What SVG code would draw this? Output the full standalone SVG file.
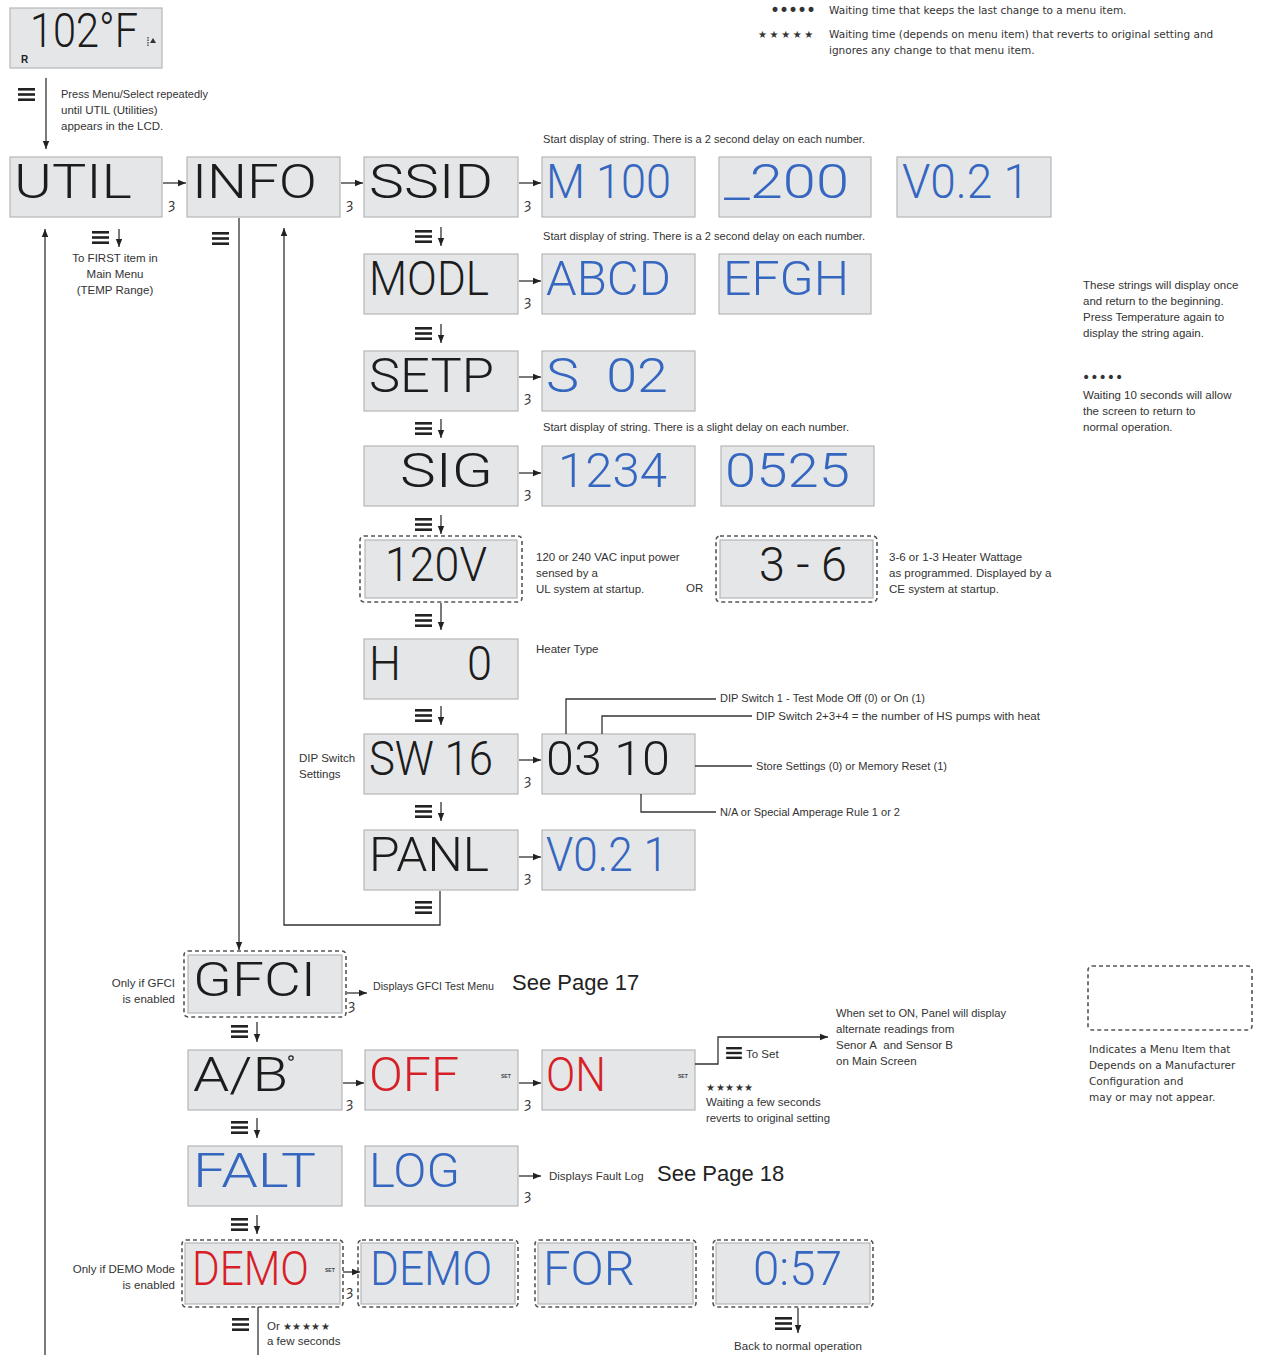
<svg xmlns="http://www.w3.org/2000/svg" xmlns:xlink="http://www.w3.org/1999/xlink" width="1261" height="1355" viewBox="0 0 1261 1355">
<style>
.lcd{fill:#e5e6e8;stroke:#b5b6b8;stroke-width:1.2}
.dash{fill:none;stroke:#555;stroke-width:1.6;stroke-dasharray:4 3}
.seg{font-family:"Roboto","DejaVu Sans Mono",monospace;font-weight:300;font-size:49px;fill:#1c1c1c}
.blue{fill:#3566c0}
.red{fill:#d71f27}
.ann{font-family:"Liberation Sans Narrow","Liberation Sans",Arial,sans-serif;font-size:11.5px;fill:#333}
.leg{font-family:"DejaVu Sans",Verdana,sans-serif;font-size:10.5px;fill:#333}
.big{font-family:"Liberation Sans",Arial,sans-serif;font-size:22px;fill:#222}
.hand{font-family:"DejaVu Sans",sans-serif;font-size:14px;fill:#333}
.set{font-family:"Liberation Sans",Arial,sans-serif;font-size:5px;font-weight:bold;fill:#444}
.ln{fill:none;stroke:#333;stroke-width:1.3}
.arr{fill:none;stroke:#333;stroke-width:1.3;marker-end:url(#ah)}
</style>
<defs>
<marker id="ah" viewBox="0 0 10 10" refX="10" refY="5" markerWidth="9" markerHeight="8" markerUnits="userSpaceOnUse" orient="auto">
<path d="M0,1 L10,5 L0,9 z" fill="#222"/>
</marker>
<symbol id="menu" viewBox="0 0 17 13" overflow="visible">
<rect x="0" y="0" width="17" height="2.6" fill="#222"/>
<rect x="0" y="5.2" width="17" height="2.6" fill="#222"/>
<rect x="0" y="10.4" width="17" height="2.6" fill="#222"/>
</symbol>
</defs>

<!-- legend top -->
<g id="legend-top">
<text class="leg" x="770" y="16" style="font-size:17px;letter-spacing:-1px">•••••</text>
<text class="leg" x="829" y="14">Waiting time that keeps the last change to a menu item.</text>
<text class="leg" x="758" y="38" style="font-size:10px;letter-spacing:2.6px">★★★★★</text>
<text class="leg" x="829" y="38">Waiting time (depends on menu item) that reverts to original setting and</text>
<text class="leg" x="829" y="54">ignores any change to that menu item.</text>
</g>

<!-- start display -->
<g id="n-102f">
<rect class="lcd" x="10" y="8" width="152" height="60"/>
<text class="seg" x="30" y="47" textLength="108" lengthAdjust="spacingAndGlyphs">102°F</text>
<text x="21" y="63" style="font-family:'Liberation Sans',Arial,sans-serif;font-size:10px;font-weight:bold;fill:#222">R</text>
<line x1="148" y1="37" x2="148" y2="47" stroke="#333" stroke-width="1.2" stroke-dasharray="1.5 1"/>
<path d="M150,43 L153,38 L156,43 z" fill="#333"/>
</g>
<g id="t-press">
<use href="#menu" x="18" y="88" width="17" height="13"/>
<text class="ann" x="61" y="98" textLength="147" lengthAdjust="spacingAndGlyphs">Press Menu/Select repeatedly</text>
<text class="ann" x="61" y="114">until UTIL (Utilities)</text>
<text class="ann" x="61" y="130">appears in the LCD.</text>
</g>

<!-- Row 1 -->
<g id="n-util"><rect class="lcd" x="10" y="157" width="152" height="60"/><text class="seg" x="14" y="198" textLength="118" lengthAdjust="spacingAndGlyphs">UTIL</text></g>
<g id="n-info"><rect class="lcd" x="187" y="157" width="153" height="60"/><text class="seg" x="192" y="198" textLength="125" lengthAdjust="spacingAndGlyphs">INFO</text></g>
<g id="n-ssid"><rect class="lcd" x="364" y="157" width="154" height="60"/><text class="seg" x="369" y="198" textLength="124" lengthAdjust="spacingAndGlyphs">SSID</text></g>
<g id="n-m100"><rect class="lcd" x="542" y="157" width="153" height="60"/><text class="seg blue" x="546" y="198" textLength="125" lengthAdjust="spacingAndGlyphs">M 100</text></g>
<g id="n-200"><rect class="lcd" x="719" y="157" width="152" height="60"/><text class="seg blue" x="724" y="198" textLength="125" lengthAdjust="spacingAndGlyphs">_200</text></g>
<g id="n-v021a"><rect class="lcd" x="897" y="157" width="154" height="60"/><text class="seg blue" x="902" y="198" textLength="127" lengthAdjust="spacingAndGlyphs">V0.2 1</text></g>
<text class="ann" x="543" y="143" textLength="322" lengthAdjust="spacingAndGlyphs">Start display of string. There is a 2 second delay on each number.</text>

<g id="t-first">
<text class="ann" x="115" y="262" text-anchor="middle">To FIRST item in</text>
<text class="ann" x="115" y="278" text-anchor="middle">Main Menu</text>
<text class="ann" x="115" y="294" text-anchor="middle">(TEMP Range)</text>
</g>

<!-- MODL row -->
<g id="n-modl"><rect class="lcd" x="364" y="254" width="154" height="60"/><text class="seg" x="369" y="295" textLength="120" lengthAdjust="spacingAndGlyphs">MODL</text></g>
<g id="n-abcd"><rect class="lcd" x="542" y="254" width="153" height="60"/><text class="seg blue" x="546" y="295" textLength="125" lengthAdjust="spacingAndGlyphs">ABCD</text></g>
<g id="n-efgh"><rect class="lcd" x="719" y="254" width="152" height="60"/><text class="seg blue" x="723" y="295" textLength="126" lengthAdjust="spacingAndGlyphs">EFGH</text></g>
<text class="ann" x="543" y="240" textLength="322" lengthAdjust="spacingAndGlyphs">Start display of string. There is a 2 second delay on each number.</text>

<!-- SETP row -->
<g id="n-setp"><rect class="lcd" x="364" y="351" width="154" height="60"/><text class="seg" x="369" y="392" textLength="125" lengthAdjust="spacingAndGlyphs">SETP</text></g>
<g id="n-s02"><rect class="lcd" x="542" y="351" width="153" height="60"/><text class="seg blue" x="546" y="392" textLength="122" lengthAdjust="spacingAndGlyphs">S&#160;&#160;02</text></g>

<!-- SIG row -->
<text class="ann" x="543" y="431" textLength="306" lengthAdjust="spacingAndGlyphs">Start display of string. There is a slight delay on each number.</text>
<g id="n-sig"><rect class="lcd" x="364" y="446" width="154" height="60"/><text class="seg" x="400" y="487" textLength="93" lengthAdjust="spacingAndGlyphs">SIG</text></g>
<g id="n-1234"><rect class="lcd" x="542" y="446" width="153" height="60"/><text class="seg blue" x="558" y="487" textLength="109" lengthAdjust="spacingAndGlyphs">1234</text></g>
<g id="n-0525"><rect class="lcd" x="721" y="446" width="153" height="60"/><text class="seg blue" x="725" y="487" textLength="125" lengthAdjust="spacingAndGlyphs">0525</text></g>

<!-- 120V row -->
<g id="n-120v"><rect class="dash" x="360" y="536" width="162" height="66" rx="4"/><rect class="lcd" x="365" y="540" width="152" height="58"/><text class="seg" x="385" y="581" textLength="102" lengthAdjust="spacingAndGlyphs">120V</text></g>
<g id="t-120v">
<text class="ann" x="536" y="561">120 or 240 VAC input power</text>
<text class="ann" x="536" y="577">sensed by a</text>
<text class="ann" x="536" y="593">UL system at startup.</text>
<text class="ann" x="686" y="592">OR</text>
</g>
<g id="n-36"><rect class="dash" x="716" y="536" width="161" height="66" rx="4"/><rect class="lcd" x="720" y="540" width="153" height="58"/><text class="seg" x="759" y="581" textLength="88" lengthAdjust="spacingAndGlyphs">3 - 6</text></g>
<g id="t-36">
<text class="ann" x="889" y="561">3-6 or 1-3 Heater Wattage</text>
<text class="ann" x="889" y="577">as programmed. Displayed by a</text>
<text class="ann" x="889" y="593">CE system at startup.</text>
</g>

<!-- H 0 -->
<g id="n-h0"><rect class="lcd" x="364" y="639" width="154" height="60"/><text class="seg" x="369" y="680" textLength="123" lengthAdjust="spacingAndGlyphs">H&#160;&#160;&#160;&#160;&#160;&#160;0</text></g>
<text class="ann" x="536" y="653">Heater Type</text>

<!-- SW16 -->
<g id="n-sw16"><rect class="lcd" x="364" y="734" width="154" height="60"/><text class="seg" x="369" y="775" textLength="124" lengthAdjust="spacingAndGlyphs">SW 16</text></g>
<g id="n-0310"><rect class="lcd" x="542" y="734" width="153" height="60"/><text class="seg" x="546" y="775" textLength="124" lengthAdjust="spacingAndGlyphs">03 10</text></g>
<g id="t-dip">
<text class="ann" x="299" y="762">DIP Switch</text>
<text class="ann" x="299" y="778">Settings</text>
<text class="ann" x="720" y="702" textLength="205" lengthAdjust="spacingAndGlyphs">DIP Switch 1 - Test Mode Off (0) or On (1)</text>
<text class="ann" x="756" y="720" textLength="284" lengthAdjust="spacingAndGlyphs">DIP Switch 2+3+4 = the number of HS pumps with heat</text>
<text class="ann" x="756" y="770" textLength="191" lengthAdjust="spacingAndGlyphs">Store Settings (0) or Memory Reset (1)</text>
<text class="ann" x="720" y="816" textLength="180" lengthAdjust="spacingAndGlyphs">N/A or Special Amperage Rule 1 or 2</text>
</g>

<!-- PANL -->
<g id="n-panl"><rect class="lcd" x="364" y="830" width="154" height="60"/><text class="seg" x="369" y="871" textLength="120" lengthAdjust="spacingAndGlyphs">PANL</text></g>
<g id="n-v021b"><rect class="lcd" x="542" y="830" width="153" height="60"/><text class="seg blue" x="546" y="871" textLength="122" lengthAdjust="spacingAndGlyphs">V0.2 1</text></g>

<!-- right notes -->
<g id="t-right">
<text class="ann" x="1083" y="289">These strings will display once</text>
<text class="ann" x="1083" y="305">and return to the beginning.</text>
<text class="ann" x="1083" y="321">Press Temperature again to</text>
<text class="ann" x="1083" y="337">display the string again.</text>
<text class="leg" x="1082" y="382" style="font-size:14px;letter-spacing:0px">•••••</text>
<text class="ann" x="1083" y="399">Waiting 10 seconds will allow</text>
<text class="ann" x="1083" y="415">the screen to return to</text>
<text class="ann" x="1083" y="431">normal operation.</text>
</g>

<!-- GFCI -->
<g id="n-gfci"><rect class="dash" x="184" y="951" width="162" height="66" rx="4"/><rect class="lcd" x="188" y="955" width="154" height="58"/><text class="seg" x="193" y="996" textLength="123" lengthAdjust="spacingAndGlyphs">GFCI</text></g>
<g id="t-gfci">
<text class="ann" x="175" y="987" text-anchor="end">Only if GFCI</text>
<text class="ann" x="175" y="1003" text-anchor="end">is enabled</text>
<text class="ann" x="373" y="990" textLength="121" lengthAdjust="spacingAndGlyphs">Displays GFCI Test Menu</text>
<text class="big" x="512" y="990">See Page 17</text>
</g>

<!-- A/B row -->
<g id="n-ab"><rect class="lcd" x="188" y="1050" width="154" height="60"/><text class="seg" x="193" y="1091" textLength="95" lengthAdjust="spacingAndGlyphs">A/B</text><circle cx="291" cy="1058" r="2.2" fill="none" stroke="#222" stroke-width="1.2"/></g>
<g id="n-off"><rect class="lcd" x="365" y="1050" width="153" height="60"/><text class="seg red" x="369" y="1091" textLength="90" lengthAdjust="spacingAndGlyphs">OFF</text><text class="set" x="501" y="1078">SET</text></g>
<g id="n-on"><rect class="lcd" x="542" y="1050" width="153" height="60"/><text class="seg red" x="546" y="1091" textLength="60" lengthAdjust="spacingAndGlyphs">ON</text><text class="set" x="678" y="1078">SET</text></g>
<g id="t-on">
<use href="#menu" x="726" y="1047" width="16" height="12"/>
<text class="ann" x="746" y="1058">To Set</text>
<text class="ann" x="706" y="1091" style="font-size:10px;letter-spacing:0.5px">★★★★★</text>
<text class="ann" x="706" y="1106">Waiting a few seconds</text>
<text class="ann" x="706" y="1122" textLength="124" lengthAdjust="spacingAndGlyphs">reverts to original setting</text>
<text class="ann" x="836" y="1017" textLength="170" lengthAdjust="spacingAndGlyphs">When set to ON, Panel will display</text>
<text class="ann" x="836" y="1033">alternate readings from</text>
<text class="ann" x="836" y="1049">Senor A&#160; and Sensor B</text>
<text class="ann" x="836" y="1065">on Main Screen</text>
</g>

<!-- FALT row -->
<g id="n-falt"><rect class="lcd" x="188" y="1146" width="154" height="60"/><text class="seg blue" x="193" y="1187" textLength="123" lengthAdjust="spacingAndGlyphs">FALT</text></g>
<g id="n-log"><rect class="lcd" x="365" y="1146" width="153" height="60"/><text class="seg blue" x="369" y="1187" textLength="91" lengthAdjust="spacingAndGlyphs">LOG</text></g>
<g id="t-log">
<text class="ann" x="549" y="1180">Displays Fault Log</text>
<text class="big" x="657" y="1181">See Page 18</text>
</g>

<!-- DEMO row -->
<g id="n-demo1"><rect class="dash" x="182" y="1240" width="161" height="67" rx="4"/><rect class="lcd" x="185" y="1243" width="155" height="61"/><text class="seg red" x="192" y="1285" textLength="117" lengthAdjust="spacingAndGlyphs">DEMO</text><text class="set" x="325" y="1272">SET</text></g>
<g id="t-demo">
<text class="ann" x="175" y="1273" text-anchor="end">Only if DEMO Mode</text>
<text class="ann" x="175" y="1289" text-anchor="end">is enabled</text>
<text class="ann" x="267" y="1330">Or <tspan style="font-size:10px;letter-spacing:0.5px">★★★★★</tspan></text>
<text class="ann" x="267" y="1345">a few seconds</text>
</g>
<g id="n-demo2"><rect class="dash" x="358" y="1240" width="160" height="67" rx="4"/><rect class="lcd" x="361" y="1243" width="154" height="61"/><text class="seg blue" x="370" y="1285" textLength="122" lengthAdjust="spacingAndGlyphs">DEMO</text></g>
<g id="n-for"><rect class="dash" x="535" y="1240" width="161" height="67" rx="4"/><rect class="lcd" x="538" y="1243" width="155" height="61"/><text class="seg blue" x="543" y="1285" textLength="92" lengthAdjust="spacingAndGlyphs">FOR</text></g>
<g id="n-057"><rect class="dash" x="713" y="1240" width="160" height="67" rx="4"/><rect class="lcd" x="716" y="1243" width="154" height="61"/><text class="seg blue" x="753" y="1285" textLength="89" lengthAdjust="spacingAndGlyphs">0:57</text></g>
<text class="ann" x="798" y="1350" text-anchor="middle">Back to normal operation</text>

<!-- legend bottom right -->
<g id="legend-dashed">
<rect class="dash" x="1088" y="966" width="164" height="64" rx="4"/>
<text class="leg" x="1089" y="1053">Indicates a Menu Item that</text>
<text class="leg" x="1089" y="1069">Depends on a Manufacturer</text>
<text class="leg" x="1089" y="1085">Configuration and</text>
<text class="leg" x="1089" y="1101">may or may not appear.</text>
</g>

<!-- connectors -->
<g id="connectors">
<line class="arr" x1="46" y1="78" x2="46" y2="149"/>
<line class="arr" x1="45" y1="1355" x2="45" y2="229"/>
<line class="arr" x1="239" y1="218" x2="239" y2="950"/>
<polyline class="arr" points="440,891 440,925 284,925 284,228"/>
<line class="ln" x1="258" y1="1307" x2="258" y2="1355"/>

<line class="arr" x1="163" y1="183" x2="186" y2="183"/>
<line class="arr" x1="341" y1="183" x2="363" y2="183"/>
<line class="arr" x1="519" y1="183" x2="541" y2="183"/>
<line class="arr" x1="519" y1="281" x2="541" y2="281"/>
<line class="arr" x1="519" y1="377" x2="541" y2="377"/>
<line class="arr" x1="519" y1="473" x2="541" y2="473"/>
<line class="arr" x1="519" y1="760" x2="541" y2="760"/>
<line class="arr" x1="519" y1="857" x2="541" y2="857"/>
<line class="arr" x1="347" y1="993" x2="367" y2="993"/>
<line class="arr" x1="343" y1="1083" x2="364" y2="1083"/>
<line class="arr" x1="519" y1="1083" x2="541" y2="1083"/>
<line class="arr" x1="519" y1="1176" x2="541" y2="1176"/>
<line class="arr" x1="343" y1="1272" x2="360" y2="1272"/>
<polyline class="arr" points="695,1064 718,1064 718,1037 828,1037"/>

<text class="hand" x="168" y="209">ȝ</text>
<text class="hand" x="346" y="209">ȝ</text>
<text class="hand" x="524" y="209">ȝ</text>
<text class="hand" x="524" y="306">ȝ</text>
<text class="hand" x="524" y="402">ȝ</text>
<text class="hand" x="524" y="498">ȝ</text>
<text class="hand" x="524" y="785">ȝ</text>
<text class="hand" x="524" y="882">ȝ</text>
<text class="hand" x="348" y="1010">ȝ</text>
<text class="hand" x="346" y="1108">ȝ</text>
<text class="hand" x="524" y="1108">ȝ</text>
<text class="hand" x="524" y="1200">ȝ</text>
<text class="hand" x="346" y="1296">ȝ</text>

<use href="#menu" x="92" y="231" width="17" height="13"/><line class="arr" x1="119" y1="229" x2="119" y2="247"/>
<use href="#menu" x="212" y="232" width="17" height="13"/>
<use href="#menu" x="415" y="230" width="17" height="13"/><line class="arr" x1="441" y1="227" x2="441" y2="246"/>
<use href="#menu" x="415" y="327" width="17" height="13"/><line class="arr" x1="441" y1="324" x2="441" y2="343"/>
<use href="#menu" x="415" y="422" width="17" height="13"/><line class="arr" x1="441" y1="419" x2="441" y2="438"/>
<use href="#menu" x="415" y="518" width="17" height="13"/><line class="arr" x1="441" y1="515" x2="441" y2="534"/>
<use href="#menu" x="415" y="614" width="17" height="13"/><line class="arr" x1="441" y1="603" x2="441" y2="630"/>
<use href="#menu" x="415" y="709" width="17" height="13"/><line class="arr" x1="441" y1="706" x2="441" y2="725"/>
<use href="#menu" x="415" y="805" width="17" height="13"/><line class="arr" x1="441" y1="802" x2="441" y2="821"/>
<use href="#menu" x="415" y="901" width="17" height="13"/>
<use href="#menu" x="231" y="1025" width="17" height="13"/><line class="arr" x1="257" y1="1022" x2="257" y2="1042"/>
<use href="#menu" x="231" y="1121" width="17" height="13"/><line class="arr" x1="257" y1="1118" x2="257" y2="1138"/>
<use href="#menu" x="231" y="1218" width="17" height="13"/><line class="arr" x1="257" y1="1215" x2="257" y2="1234"/>
<use href="#menu" x="232" y="1318" width="17" height="13"/>
<use href="#menu" x="775" y="1317" width="17" height="13"/><line class="arr" x1="798" y1="1308" x2="798" y2="1333"/>

<polyline class="ln" points="566,734 566,699 716,699"/>
<polyline class="ln" points="602,734 602,716 752,716"/>
<line class="ln" x1="695" y1="766" x2="752" y2="766"/>
<polyline class="ln" points="641,794 641,812 716,812"/>
</g>
</svg>
